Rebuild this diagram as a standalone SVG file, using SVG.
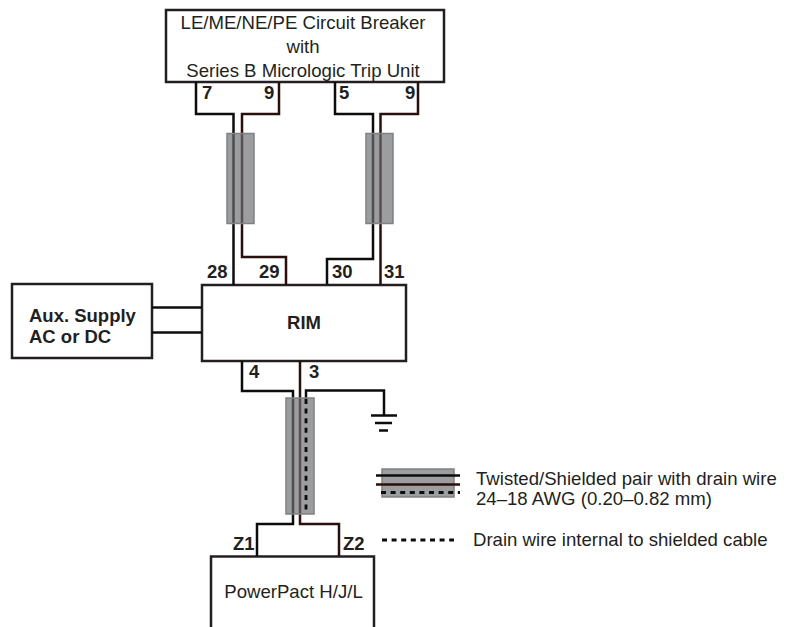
<svg xmlns="http://www.w3.org/2000/svg" width="792" height="627" viewBox="0 0 792 627">
<style>
text{font-family:"Liberation Sans",Arial,sans-serif;fill:#231f20}
.n{font-size:18.6px}
.b{font-size:18.5px;font-weight:bold}
.c{text-anchor:middle}
.box{fill:#fff;stroke:#231f20;stroke-width:2.5}
.k,.r,.d,.g{fill:none;stroke-width:2.5}
.k{stroke:#0c0c0c}
.r{stroke:#2a0f0c}
.d{stroke:#0c0c0c;stroke-width:2.8;stroke-dasharray:5 4.6}
.g{stroke:#0c0c0c;stroke-width:2.7}
.s{fill:#6d6e71;fill-opacity:.68;stroke:#808184;stroke-width:1.5}
</style>
<g id="breaker">
<rect class="box" x="166" y="10" width="278" height="72"/>
<text class="n c" x="303" y="29">LE/ME/NE/PE Circuit Breaker</text>
<text class="n c" x="303" y="53">with</text>
<text class="n c" x="303" y="77">Series B Micrologic Trip Unit</text>
</g>
<g id="rim">
<rect class="box" x="202" y="285" width="204" height="76"/>
<text class="b c" x="304" y="329">RIM</text>
</g>
<g id="aux">
<rect class="box" x="12" y="284" width="140" height="74"/>
<text class="b" x="29" y="322">Aux. Supply</text>
<text class="b" x="29" y="343">AC or DC</text>
</g>
<g id="powerpact">
<path class="box" d="M211 627V556.500H374V627"/>
<text class="n c" x="293.500" y="598">PowerPact H/J/L</text>
</g>
<g id="connectors">
<path class="k" d="M196 82V114H233.500V285"/>
<path class="r" d="M279 82V114H242V257H286V285"/>
<path class="k" d="M335 82V114H373V259H327V284"/>
<path class="r" d="M418 82V114H380.500V285"/>
<path class="k" d="M152 307.500H202M152 332.500H202"/>
<path class="k" d="M242 361V391H293V524H257V556"/>
<path class="r" d="M300 361V524H339V556"/>
<path class="k" d="M306 399V390.500H384V415"/>
<path class="g" d="M371 415.500H397M375 423H392M379 430.500H388"/>
</g>
<g id="shields">
<rect class="s" x="227" y="133.500" width="27" height="90"/>
<rect class="s" x="366" y="133.500" width="27" height="90"/>
<rect class="s" x="286" y="398" width="28" height="116"/>
</g>
<path class="d" d="M306 399V512"/>
<g id="legend">
<rect class="s" x="382" y="469" width="72" height="28"/>
<path class="k" d="M376 475.500H460"/>
<path class="r" d="M376 484.500H460"/>
<path class="d" d="M381 492.500H460"/>
<path class="d" d="M382 540H454"/>
<text class="n" x="476" y="485">Twisted/Shielded pair with drain wire</text>
<text class="n" x="476" y="505">24–18 AWG (0.20–0.82 mm)</text>
<text class="n" x="473" y="546">Drain wire internal to shielded cable</text>
</g>
<g id="labels">
<text class="b" x="202" y="99">7</text>
<text class="b" x="264" y="99">9</text>
<text class="b" x="339" y="99">5</text>
<text class="b" x="405" y="99">9</text>
<text class="b" x="207" y="278">28</text>
<text class="b" x="259" y="278">29</text>
<text class="b" x="332" y="278">30</text>
<text class="b" x="384" y="278">31</text>
<text class="b" x="249" y="378">4</text>
<text class="b" x="309" y="378">3</text>
<text class="b" x="233" y="550">Z1</text>
<text class="b" x="343" y="550">Z2</text>
</g>
</svg>
